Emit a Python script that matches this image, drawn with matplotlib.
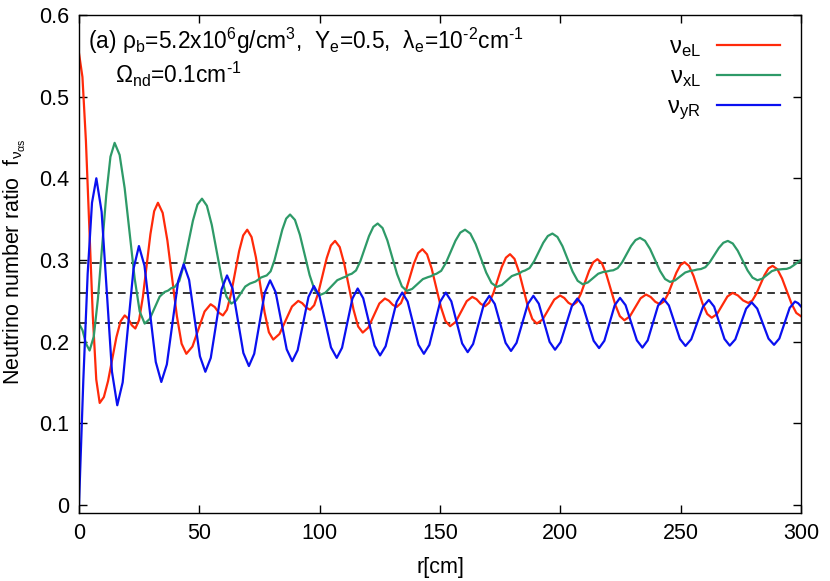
import matplotlib
matplotlib.use("Agg")
import matplotlib.pyplot as plt

plt.rcParams['font.family'] = ['Liberation Sans', 'DejaVu Sans']
plt.rcParams['mathtext.fontset'] = 'custom'
plt.rcParams['mathtext.rm'] = 'Liberation Sans'
plt.rcParams['mathtext.it'] = 'Liberation Sans'
plt.rcParams['mathtext.default'] = 'regular'

# ---- data ----
r_eL = [0, 1.43, 2.87, 4.3, 5.73, 7.17, 8.6, 10.33, 12.07, 13.8, 15.53, 17.27, 19.0, 20.47, 21.93, 23.4, 24.97, 26.53, 28.1, 29.67, 31.23, 32.8, 34.77, 36.73, 38.7, 40.67, 42.63, 44.6, 47.13, 49.65, 52.18, 54.7, 56.4, 58.1, 59.8, 61.48, 63.17, 64.85, 66.53, 68.22, 69.9, 71.7, 73.5, 75.3, 77.1, 78.9, 80.7, 83.3, 85.9, 88.5, 91.1, 92.73, 94.37, 96.0, 97.73, 99.47, 101.2, 102.93, 104.67, 106.4, 108.32, 110.23, 112.15, 114.07, 115.98, 117.9, 120.2, 122.5, 124.8, 127.1, 128.73, 130.37, 132.0, 133.78, 135.57, 137.35, 139.13, 140.92, 142.7, 144.62, 146.53, 148.45, 150.37, 152.28, 154.2, 156.5, 158.8, 161.1, 163.4, 165.17, 166.93, 168.7, 170.43, 172.17, 173.9, 175.63, 177.37, 179.1, 180.95, 182.8, 184.65, 186.5, 188.35, 190.2, 192.63, 195.05, 197.48, 199.9, 201.63, 203.37, 205.1, 206.82, 208.53, 210.25, 211.97, 213.68, 215.4, 217.27, 219.13, 221.0, 222.87, 224.73, 226.6, 228.85, 231.1, 233.35, 235.6, 237.53, 239.47, 241.4, 243.1, 244.8, 246.5, 248.2, 249.9, 251.6, 253.48, 255.37, 257.25, 259.13, 261.02, 262.9, 265.08, 267.25, 269.43, 271.6, 273.77, 275.93, 278.1, 279.78, 281.47, 283.15, 284.83, 286.52, 288.2, 290.17, 292.13, 294.1, 296.07, 298.03, 300]
f_eL = [0.553, 0.524, 0.446, 0.339, 0.232, 0.1535, 0.1248, 0.132, 0.1516, 0.1784, 0.2052, 0.2248, 0.232, 0.228, 0.220, 0.216, 0.2263, 0.2545, 0.293, 0.3315, 0.3597, 0.370, 0.3576, 0.3237, 0.2775, 0.2312, 0.1974, 0.185, 0.1939, 0.2154, 0.2368, 0.2457, 0.2423, 0.2354, 0.232, 0.239, 0.2583, 0.2845, 0.3108, 0.330, 0.337, 0.328, 0.3033, 0.2697, 0.236, 0.2114, 0.2024, 0.2093, 0.2261, 0.2429, 0.2498, 0.2471, 0.2417, 0.239, 0.2446, 0.2601, 0.2812, 0.3022, 0.3177, 0.3233, 0.3158, 0.2952, 0.2671, 0.2391, 0.2185, 0.211, 0.2171, 0.2319, 0.2466, 0.2527, 0.2501, 0.245, 0.2424, 0.2471, 0.2601, 0.2778, 0.2954, 0.3084, 0.3131, 0.3068, 0.2895, 0.2659, 0.2424, 0.2251, 0.2188, 0.224, 0.2368, 0.2495, 0.2547, 0.2519, 0.2462, 0.2433, 0.2476, 0.2592, 0.2752, 0.2911, 0.3027, 0.307, 0.3013, 0.2857, 0.2645, 0.2432, 0.2277, 0.222, 0.227, 0.2392, 0.2514, 0.2564, 0.2534, 0.2475, 0.2445, 0.2483, 0.2586, 0.2727, 0.2868, 0.2971, 0.3009, 0.2959, 0.2822, 0.2635, 0.2448, 0.2311, 0.2261, 0.2307, 0.2419, 0.253, 0.2576, 0.2546, 0.2487, 0.2457, 0.2492, 0.2586, 0.2715, 0.2843, 0.2937, 0.2972, 0.2926, 0.2802, 0.2632, 0.2462, 0.2338, 0.2292, 0.2336, 0.2444, 0.2552, 0.2596, 0.2565, 0.2504, 0.2473, 0.2503, 0.2587, 0.270, 0.2814, 0.2897, 0.2927, 0.2886, 0.2773, 0.2618, 0.2464, 0.2351, 0.231]

r_xL = [0, 1.47, 2.93, 4.4, 6.13, 7.87, 9.6, 11.33, 13.07, 14.8, 16.88, 18.97, 21.05, 23.13, 25.22, 27.3, 29.38, 31.45, 33.53, 35.6, 37.0, 38.4, 39.8, 41.68, 43.57, 45.45, 47.33, 49.22, 51.1, 53.13, 55.17, 57.2, 59.23, 61.27, 63.3, 65.23, 67.15, 69.08, 71.0, 73.33, 75.67, 78.0, 79.62, 81.23, 82.85, 84.47, 86.08, 87.7, 89.73, 91.77, 93.8, 95.83, 97.87, 99.9, 102.38, 104.85, 107.33, 109.8, 110.97, 112.13, 113.3, 115.1, 116.9, 118.7, 120.5, 122.3, 124.1, 126.12, 128.13, 130.15, 132.17, 134.18, 136.2, 138.43, 140.65, 142.88, 145.1, 146.23, 147.37, 148.5, 150.48, 152.47, 154.45, 156.43, 158.42, 160.4, 162.6, 164.8, 167.0, 169.2, 171.4, 173.6, 175.68, 177.75, 179.83, 181.9, 183.03, 184.17, 185.3, 187.2, 189.1, 191.0, 192.9, 194.8, 196.7, 198.8, 200.9, 203.0, 205.1, 207.2, 209.3, 211.45, 213.6, 215.75, 217.9, 219.27, 220.63, 222.0, 223.85, 225.7, 227.55, 229.4, 231.25, 233.1, 235.18, 237.27, 239.35, 241.43, 243.52, 245.6, 247.7, 249.8, 251.9, 254.0, 255.47, 256.93, 258.4, 260.27, 262.13, 264.0, 265.87, 267.73, 269.6, 271.65, 273.7, 275.75, 277.8, 279.85, 281.9, 283.9, 285.9, 287.9, 289.9, 291.27, 292.63, 294.0, 295.5, 297.0, 298.5, 300]
f_xL = [0.222, 0.2138, 0.1973, 0.189, 0.206, 0.2526, 0.3162, 0.3798, 0.4264, 0.4434, 0.4286, 0.388, 0.3327, 0.2773, 0.2368, 0.222, 0.2277, 0.2414, 0.2551, 0.2608, 0.2624, 0.2655, 0.267, 0.2742, 0.294, 0.321, 0.348, 0.3678, 0.375, 0.3664, 0.3429, 0.3107, 0.2786, 0.2551, 0.2465, 0.2501, 0.2588, 0.2674, 0.271, 0.2735, 0.2785, 0.281, 0.286, 0.2997, 0.3183, 0.337, 0.3506, 0.3556, 0.349, 0.3309, 0.3061, 0.2814, 0.2633, 0.2567, 0.2599, 0.2676, 0.2752, 0.2784, 0.2796, 0.2819, 0.283, 0.2871, 0.2984, 0.3138, 0.3292, 0.3405, 0.3446, 0.3391, 0.3239, 0.3033, 0.2826, 0.2675, 0.262, 0.2645, 0.2705, 0.2765, 0.279, 0.280, 0.282, 0.283, 0.2866, 0.2965, 0.310, 0.3235, 0.3334, 0.337, 0.3323, 0.3195, 0.302, 0.2845, 0.2717, 0.267, 0.2693, 0.2748, 0.2802, 0.2825, 0.2836, 0.2859, 0.287, 0.290, 0.2983, 0.3097, 0.321, 0.3293, 0.3323, 0.3281, 0.3168, 0.3012, 0.2857, 0.2744, 0.2702, 0.2724, 0.2778, 0.2831, 0.2853, 0.2858, 0.2868, 0.2873, 0.290, 0.2972, 0.3072, 0.3171, 0.3243, 0.327, 0.3234, 0.3135, 0.300, 0.2865, 0.2766, 0.273, 0.275, 0.2798, 0.2846, 0.2866, 0.2872, 0.2883, 0.2888, 0.2911, 0.2974, 0.3061, 0.3147, 0.321, 0.3233, 0.3201, 0.3113, 0.2992, 0.2871, 0.2783, 0.2751, 0.277, 0.2817, 0.2863, 0.2882, 0.2884, 0.2888, 0.289, 0.2905, 0.2935, 0.2967, 0.300]

r_yR = [0, 1.8, 3.6, 5.4, 7.2, 9.4, 11.55, 13.7, 15.9, 18.15, 20.4, 22.65, 24.9, 27.2, 29.55, 31.9, 34.2, 36.5, 38.85, 41.2, 43.5, 45.75, 48.0, 50.25, 52.5, 54.75, 57.0, 59.25, 61.5, 63.8, 66.05, 68.3, 70.6, 72.8, 75.0, 77.2, 79.4, 81.7, 84.0, 86.3, 88.6, 90.85, 93.1, 95.35, 97.6, 99.95, 102.35, 104.7, 107.1, 109.3, 111.45, 113.6, 115.8, 118.1, 120.45, 122.8, 125.1, 127.4, 129.7, 132.0, 134.3, 136.55, 138.8, 141.05, 143.3, 145.6, 147.85, 150.1, 152.4, 154.7, 156.95, 159.2, 161.5, 163.75, 166.0, 168.25, 170.5, 172.75, 175.0, 177.25, 179.5, 181.8, 184.15, 186.5, 188.8, 191.05, 193.3, 195.55, 197.8, 200.1, 202.45, 204.8, 207.1, 209.35, 211.6, 213.85, 216.1, 218.3, 220.45, 222.6, 224.8, 227.1, 229.45, 231.8, 234.1, 236.3, 238.45, 240.6, 242.8, 245.1, 247.4, 249.7, 252.0, 254.4, 256.85, 259.3, 261.7, 263.9, 266.05, 268.2, 270.4, 272.7, 274.95, 277.2, 279.5, 281.8, 284.15, 286.5, 288.8, 291.0, 293.15, 295.3, 297.5, 298.8, 300]
f_yR = [0.0, 0.153, 0.283, 0.370, 0.400, 0.359, 0.261, 0.163, 0.122, 0.150, 0.2195, 0.289, 0.317, 0.293, 0.2338, 0.175, 0.1505, 0.172, 0.2226, 0.274, 0.2947, 0.2755, 0.2289, 0.182, 0.163, 0.180, 0.222, 0.264, 0.281, 0.265, 0.2255, 0.186, 0.170, 0.185, 0.2225, 0.260, 0.275, 0.2605, 0.2255, 0.1905, 0.176, 0.1894, 0.222, 0.2546, 0.268, 0.2552, 0.224, 0.1928, 0.180, 0.1924, 0.2225, 0.2526, 0.265, 0.253, 0.224, 0.195, 0.183, 0.1942, 0.2215, 0.2488, 0.260, 0.249, 0.2225, 0.196, 0.185, 0.196, 0.2225, 0.249, 0.260, 0.2493, 0.2235, 0.1977, 0.187, 0.197, 0.2215, 0.2459, 0.256, 0.2461, 0.2223, 0.1984, 0.1885, 0.1984, 0.2223, 0.2461, 0.256, 0.2464, 0.223, 0.1996, 0.190, 0.1992, 0.2214, 0.2435, 0.2527, 0.2438, 0.2224, 0.2009, 0.192, 0.201, 0.2228, 0.2445, 0.2535, 0.2446, 0.2231, 0.2015, 0.1926, 0.2014, 0.2227, 0.2439, 0.2527, 0.2442, 0.2237, 0.2031, 0.1946, 0.2028, 0.2228, 0.2428, 0.251, 0.2428, 0.223, 0.2032, 0.195, 0.2027, 0.2215, 0.2403, 0.248, 0.2404, 0.222, 0.2036, 0.196, 0.2037, 0.2225, 0.2413, 0.249, 0.247, 0.243]

levels = [0.2963, 0.2593, 0.2222]
labels = [r'ν$_{eL}$', r'ν$_{xL}$', r'ν$_{yR}$']
colors = ['#ff2a0a', '#2e9a68', '#0a10f0']
x_ticks = [0, 50, 100, 150, 200, 250, 300]
y_ticks = [0, 0.1, 0.2, 0.3, 0.4, 0.5, 0.6]

fig = plt.figure(figsize=(8.3, 5.81), dpi=100)
ax = fig.add_axes([79/830, 1-513/581, (801-79)/830, (513-15)/581])

for lv in levels:
    ax.plot([0, 300], [lv, lv], color='black', lw=1.1, dashes=(5, 3.5))

series = [(r_eL, f_eL), (r_xL, f_xL), (r_yR, f_yR)]
handles = []
for (rr, ff), lab, c in zip(series, labels, colors):
    ln, = ax.plot(rr, ff, color=c, lw=1.6, label=lab)
    handles.append(ln)

ax.set_xlim(0, 300)
ax.set_ylim(-0.01, 0.6)
ax.set_xticks(x_ticks)
ax.set_xticklabels([str(t) for t in x_ticks])
ax.set_yticks(y_ticks)
ax.set_yticklabels(['0', '0.1', '0.2', '0.3', '0.4', '0.5', '0.6'])
ax.tick_params(direction='in', top=True, right=True, length=6, width=1,
               labelsize=15.5, pad=7)
for sp in ax.spines.values():
    sp.set_linewidth(1.0)

fig.text(440/830, 1-568/581, 'r[cm]', fontsize=15.5, ha='center', va='center')
fig.text(15/830, 1-262/581, r'Neutrino number ratio  f$_{ν_{αs}}$',
         fontsize=15.5, ha='center', va='center', rotation=90)

ax.text(0.012, 0.948,
        '(a) ρ$_b$=5.2x10$^6$g/cm$^3$,  Y$_e$=0.5,  λ$_e$=10$^{\u20102}$cm$^{\u20101}$',
        transform=ax.transAxes, fontsize=16.4, ha='left', va='center')
ax.text(0.05, 0.880, 'Ω$_{nd}$=0.1cm$^{\u20101}$',
        transform=ax.transAxes, fontsize=16.4, ha='left', va='center')

leg = ax.legend(handles=handles, loc='upper right', frameon=False,
                markerfirst=False, fontsize=17, handlelength=2.65,
                labelspacing=0.3, borderaxespad=0.5, handletextpad=0.7)

fig.savefig('out.png', dpi=100)
